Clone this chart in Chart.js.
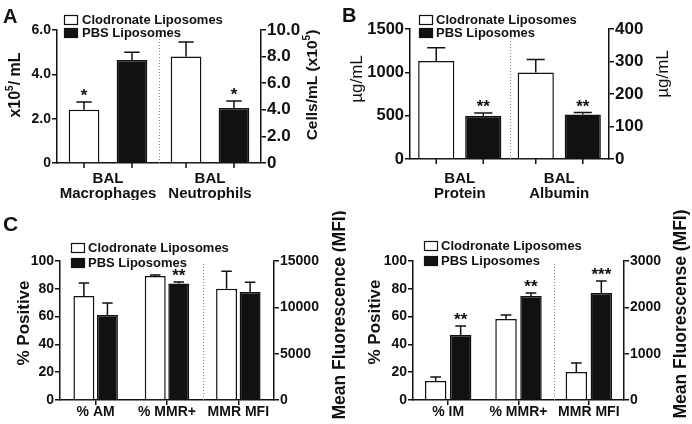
<!DOCTYPE html>
<html>
<head>
<meta charset="utf-8">
<script src="https://cdn.jsdelivr.net/npm/chart.js@4.4.1/dist/chart.umd.min.js"></script>
<style>
  body { margin: 0; background: #fff; }
  #fig { position: relative; width: 692px; height: 424px; overflow: hidden; font-family: "Liberation Sans", Arial, sans-serif; }
  #fig canvas { position: absolute; }
  .letter { position: absolute; font-weight: bold; font-size: 20px; line-height: 20px; color: #111; }
</style>
</head>
<body>
<div id="fig">
  <canvas id="chartA" width="340" height="200" style="left:0;top:0"></canvas>
  <canvas id="chartB" width="346" height="200" style="left:346px;top:0"></canvas>
  <canvas id="chartC1" width="346" height="224" style="left:0;top:200px"></canvas>
  <canvas id="chartC2" width="346" height="224" style="left:346px;top:200px"></canvas>
  <div class="letter" style="left:3px;top:6px">A</div>
  <div class="letter" style="left:342px;top:5px">B</div>
  <div class="letter" style="left:3px;top:214px;font-size:21px">C</div>
</div>
<script>
const groupNames = ['Clodronate Liposomes', 'PBS Liposomes'];

// A - BAL cells (macrophages on left axis, neutrophils on right axis)
const aLabels = [['BAL', 'Macrophages'], ['BAL', 'Neutrophils']];
const aAxis = ['yL', 'yR'];
const aClod = [2.4, 8.0];
const aClodErr = [0.35, 1.1];
const aPbs = [4.65, 4.13];
const aPbsErr = [0.35, 0.53];
const aClodStars = ['*', ''];
const aPbsStars = ['', '*'];
const aLeftTicks = ['0', '2.0', '4.0', '6.0'];
const aRightTicks = ['0', '2.0', '4.0', '6.0', '8.0', '10.0'];

// B - BAL protein / albumin
const bLabels = [['BAL', 'Protein'], ['BAL', 'Albumin']];
const bAxis = ['yL', 'yR'];
const bClod = [1130, 266];
const bClodErr = [155, 40];
const bPbs = [500, 137];
const bPbsErr = [32, 6];
const bClodStars = ['', ''];
const bPbsStars = ['**', '**'];
const bLeftTicks = ['0', '500', '1000', '1500'];
const bRightTicks = ['0', '100', '200', '300', '400'];

// C left - alveolar macrophages
const c1Labels = ['% AM', '% MMR+', 'MMR MFI'];
const c1Axis = ['yL', 'yL', 'yR'];
const c1Clod = [74.8, 89.2, 12000];
const c1ClodErr = [9.4, 0.8, 1900];
const c1Pbs = [61.2, 83.9, 11650];
const c1PbsErr = [8.6, 1.0, 1050];
const c1ClodStars = ['', '', ''];
const c1PbsStars = ['', '**', ''];
const c1LeftTicks = ['0', '20', '40', '60', '80', '100'];
const c1RightTicks = ['0', '5000', '10000', '15000'];

// C right - interstitial macrophages
const c2Labels = ['% IM', '% MMR+', 'MMR MFI'];
const c2Axis = ['yL', 'yL', 'yR'];
const c2Clod = [13.7, 58.3, 604];
const c2ClodErr = [2.8, 2.9, 195];
const c2Pbs = [46.8, 74.8, 2309];
const c2PbsErr = [6.4, 2.2, 259];
const c2ClodStars = ['', '', ''];
const c2PbsStars = ['**', '**', '***'];
const c2LeftTicks = ['0', '20', '40', '60', '80', '100'];
const c2RightTicks = ['0', '1000', '2000', '3000'];

Chart.defaults.font.family = '"Liberation Sans", Arial, sans-serif';
Chart.defaults.color = '#111';

const INK = '#111';

function drawVText(ctx, t) {
  ctx.save();
  ctx.translate(t.x, t.y);
  ctx.rotate(-Math.PI / 2);
  const big = t.weight + ' ' + t.size + 'px "Liberation Sans"';
  const small = t.weight + ' ' + Math.round(t.size * 0.65) + 'px "Liberation Sans"';
  let w = 0;
  t.parts.forEach(p => { ctx.font = p[1] ? small : big; w += ctx.measureText(p[0]).width; });
  let x = -w / 2;
  ctx.textAlign = 'left';
  ctx.textBaseline = 'middle';
  ctx.fillStyle = INK;
  t.parts.forEach(p => {
    ctx.font = p[1] ? small : big;
    ctx.fillText(p[0], x, p[1] ? -t.size * 0.35 : 0);
    x += ctx.measureText(p[0]).width;
  });
  ctx.restore();
}

function figPlugin(cfg) {
  return {
    id: 'fig',
    afterDatasetsDraw(chart) {
      const ctx = chart.ctx;
      const area = chart.chartArea;
      const xs = chart.scales.x;
      ctx.save();

      // dotted separator between the two axes' groups
      const sx = Math.round((xs.getPixelForValue(cfg.sep) + xs.getPixelForValue(cfg.sep + 1)) / 2) + 0.5;
      ctx.strokeStyle = '#8c8c8c';
      ctx.lineWidth = 1;
      ctx.setLineDash([1, 2]);
      ctx.beginPath();
      ctx.moveTo(sx, area.top + 3);
      ctx.lineTo(sx, area.bottom);
      ctx.stroke();
      ctx.setLineDash([]);

      // error bars (upper SEM), asterisks, per-bar ticks
      chart.data.datasets.forEach((ds, d) => {
        const meta = chart.getDatasetMeta(d);
        const ys = chart.scales[ds.yAxisID];
        meta.data.forEach((el, j) => {
          const v = ds.data[j];
          if (v === null) return;
          const top = ys.getPixelForValue(v + ds.errors[j]);
          const cap = el.width * 0.5;
          ctx.strokeStyle = INK;
          ctx.lineWidth = 1.5;
          ctx.beginPath();
          ctx.moveTo(el.x, el.y);
          ctx.lineTo(el.x, top);
          ctx.moveTo(el.x - cap / 2, top);
          ctx.lineTo(el.x + cap / 2, top);
          if (cfg.barTicks) {
            ctx.moveTo(el.x, area.bottom);
            ctx.lineTo(el.x, area.bottom + 5);
          }
          ctx.stroke();
          if (ds.stars[j]) {
            ctx.fillStyle = INK;
            ctx.font = 'bold 17px "Liberation Sans"';
            ctx.textAlign = 'center';
            ctx.textBaseline = 'alphabetic';
            ctx.fillText(ds.stars[j], el.x, top - 1);
          }
        });
      });

      // legend
      const lg = cfg.legend;
      groupNames.forEach((name, k) => {
        const y = lg.rows[k] - cfg.top;
        const bx = lg.box - cfg.left;
        ctx.fillStyle = k ? INK : '#fff';
        ctx.fillRect(bx, y - 5, 14, 10);
        ctx.strokeStyle = INK;
        ctx.lineWidth = 1.2;
        ctx.strokeRect(bx + 0.5, y - 4.5, 13, 9);
        ctx.fillStyle = INK;
        ctx.font = 'bold 13px "Liberation Sans"';
        ctx.textAlign = 'left';
        ctx.textBaseline = 'middle';
        ctx.fillText(name, lg.text - cfg.left, y);
      });

      // axis titles
      cfg.titles.forEach(t => drawVText(ctx, Object.assign({}, t, { x: t.x - cfg.left, y: t.y - cfg.top })));
      ctx.restore();
    }
  };
}

function yScale(pos, max, step, labels, size, width) {
  return {
    position: pos,
    min: 0,
    max: max,
    ticks: { stepSize: step, padding: 1, color: INK, font: { size: size, weight: 'bold' }, callback: (v, i) => labels[i] },
    grid: { drawOnChartArea: false, tickLength: 5, color: INK, lineWidth: 1.5 },
    border: { color: INK, width: 1.5 },
    afterFit: s => { s.width = width; }
  };
}

function makePanel(cfg) {
  const sets = [];
  ['yL', 'yR'].forEach(ax => {
    if (!cfg.axis.includes(ax)) return;
    const pick = arr => arr.map((v, i) => cfg.axis[i] === ax ? v : null);
    const common = { yAxisID: ax, borderWidth: 1.5, borderColor: INK, skipNull: true,
      categoryPercentage: cfg.catPct, barPercentage: cfg.barPct };
    sets.push(Object.assign({ label: groupNames[0], data: pick(cfg.clod), errors: pick(cfg.clodErr),
      stars: pick(cfg.clodStars), backgroundColor: '#ffffff' }, common));
    sets.push(Object.assign({ label: groupNames[1], data: pick(cfg.pbs), errors: pick(cfg.pbsErr),
      stars: pick(cfg.pbsStars), backgroundColor: INK }, common));
  });

  const a = cfg.area;
  return new Chart(document.getElementById(cfg.id), {
    type: 'bar',
    data: { labels: cfg.labels, datasets: sets },
    options: {
      responsive: false,
      animation: false,
      layout: { padding: { top: a.t, left: 0, right: 0, bottom: 0 } },
      plugins: { legend: { display: false }, tooltip: { enabled: false } },
      scales: {
        x: {
          ticks: { padding: cfg.xPad, color: INK, maxRotation: 0, autoSkip: false,
            font: { size: cfg.xFont, weight: 'bold', lineHeight: 1 } },
          grid: { offset: false, drawOnChartArea: false, tickLength: 5,
            color: cfg.barTicks ? 'rgba(0,0,0,0)' : INK, lineWidth: 1.5 },
          border: { color: INK, width: 1.5 },
          afterFit: s => { s.height = cfg.H - a.b; }
        },
        yL: yScale('left', cfg.left1.max, cfg.left1.step, cfg.left1.labels, cfg.left1.size, a.l),
        yR: yScale('right', cfg.right1.max, cfg.right1.step, cfg.right1.labels, cfg.right1.size, cfg.W - a.r)
      }
    },
    plugins: [figPlugin(cfg)]
  });
}

makePanel({
  id: 'chartA', left: 0, top: 0, W: 340, H: 200,
  area: { l: 57, r: 261, t: 30, b: 163 },
  labels: aLabels, axis: aAxis,
  clod: aClod, clodErr: aClodErr, clodStars: aClodStars,
  pbs: aPbs, pbsErr: aPbsErr, pbsStars: aPbsStars,
  catPct: 0.94, barPct: 0.64, xFont: 15, xPad: 3, barTicks: true, sep: 0,
  left1: { max: 6, step: 2, labels: aLeftTicks, size: 14 },
  right1: { max: 10, step: 2, labels: aRightTicks, size: 17 },
  legend: { box: 64, text: 82, rows: [20, 33] },
  titles: [
    { parts: [['x10', 0], ['5', 1], ['/ mL', 0]], x: 16, y: 85, size: 16, weight: 'bold' },
    { parts: [['Cells/mL (x10', 0], ['5', 1], [')', 0]], x: 313, y: 85, size: 15.5, weight: 'bold' }
  ]
});

makePanel({
  id: 'chartB', left: 346, top: 0, W: 346, H: 200,
  area: { l: 64, r: 263, t: 29, b: 159 },
  labels: bLabels, axis: bAxis,
  clod: bClod, clodErr: bClodErr, clodStars: bClodStars,
  pbs: bPbs, pbsErr: bPbsErr, pbsStars: bPbsStars,
  catPct: 0.945, barPct: 0.77, xFont: 15, xPad: 7, barTicks: true, sep: 0,
  left1: { max: 1500, step: 500, labels: bLeftTicks, size: 16.5 },
  right1: { max: 400, step: 100, labels: bRightTicks, size: 17 },
  legend: { box: 419, text: 436, rows: [20, 33] },
  titles: [
    { parts: [['\u00b5g/mL', 0]], x: 357, y: 79, size: 17, weight: 'normal' },
    { parts: [['\u00b5g/mL', 0]], x: 663, y: 74, size: 17, weight: 'normal' }
  ]
});

makePanel({
  id: 'chartC1', left: 0, top: 200, W: 346, H: 224,
  area: { l: 60, r: 274, t: 61, b: 200 },
  labels: c1Labels, axis: c1Axis,
  clod: c1Clod, clodErr: c1ClodErr, clodStars: c1ClodStars,
  pbs: c1Pbs, pbsErr: c1PbsErr, pbsStars: c1PbsStars,
  catPct: 0.66, barPct: 0.89, xFont: 14, xPad: 0, barTicks: false, sep: 1,
  left1: { max: 100, step: 20, labels: c1LeftTicks, size: 14 },
  right1: { max: 15000, step: 5000, labels: c1RightTicks, size: 14 },
  legend: { box: 71, text: 88, rows: [248, 263] },
  titles: [
    { parts: [['% Positive', 0]], x: 24, y: 323, size: 17, weight: 'bold' },
    { parts: [['Mean Fluorescence (MFI)', 0]], x: 340, y: 315, size: 17.5, weight: 'bold' }
  ]
});

makePanel({
  id: 'chartC2', left: 346, top: 200, W: 346, H: 224,
  area: { l: 67, r: 278, t: 61, b: 200 },
  labels: c2Labels, axis: c2Axis,
  clod: c2Clod, clodErr: c2ClodErr, clodStars: c2ClodStars,
  pbs: c2Pbs, pbsErr: c2PbsErr, pbsStars: c2PbsStars,
  catPct: 0.71, barPct: 0.86, xFont: 14, xPad: 0, barTicks: false, sep: 1,
  left1: { max: 100, step: 20, labels: c2LeftTicks, size: 14 },
  right1: { max: 3000, step: 1000, labels: c2RightTicks, size: 14 },
  legend: { box: 424, text: 441, rows: [246, 261] },
  titles: [
    { parts: [['% Positive', 0]], x: 375, y: 322, size: 17, weight: 'bold' },
    { parts: [['Mean Fluorescense (MFI)', 0]], x: 681, y: 314, size: 17.5, weight: 'bold' }
  ]
});
</script>
</body>
</html>
